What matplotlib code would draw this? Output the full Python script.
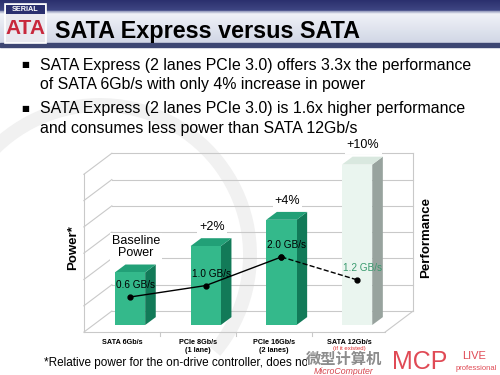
import matplotlib
matplotlib.use("Agg")
import matplotlib.pyplot as plt
import numpy as np
from matplotlib.patches import Rectangle, Polygon, Arc

plt.rcParams['font.family'] = ['Liberation Sans', 'DejaVu Sans']

# ---- data ----
categories = ["SATA 6Gb/s", "PCIe 8Gb/s\n(1 lane)", "PCIe 16Gb/s\n(2 lanes)", "SATA 12Gb/s"]
power = [2.0, 3.0, 4.0, 6.1]              # relative bar heights (power)
power_labels = ["Baseline\nPower", "+2%", "+4%", "+10%"]
throughput = [0.6, 1.0, 2.0, 1.2]         # GB/s (performance line)
hypothetical = [False, False, False, True]

title = "SATA Express versus SATA"
bullets = [
    ["SATA Express (2 lanes PCIe 3.0) offers 3.3x the performance",
     "of SATA 6Gb/s with only 4% increase in power"],
    ["SATA Express (2 lanes PCIe 3.0) is 1.6x higher performance",
     "and consumes less power than SATA 12Gb/s"],
]
footnote = "*Relative power for the on-drive controller, does no"

# ---- style ----
BAR_FRONT = "#34b98b"
BAR_TOP = "#22a077"
BAR_SIDE = "#127a58"
GHOST_FRONT = "#eaf5ef"
GHOST_TOP = "#d9e8df"
GHOST_SIDE = "#98a39e"
GRID = "#c9c9c9"
BAR_W = 0.4
DEPTH_DX, DEPTH_DY = 0.14, 0.30      # bar depth
BOX_DX, BOX_DY = 0.37, 0.80          # chart box depth
FLOOR_Y = -0.27
BOX_LEFT, BOX_RIGHT = -0.61, 3.37
N_GRID = 6

fig = plt.figure(figsize=(5, 3.75), dpi=100)

# background / slide decoration in pixel coordinates
bg = fig.add_axes([0, 0, 1, 1])
bg.set_xlim(0, 500)
bg.set_ylim(375, 0)
bg.axis("off")
bg.add_patch(Arc((100, 255), 300, 300, theta1=190, theta2=400,
                 color="#f1f1f1", lw=10, zorder=0))
grad = np.linspace(0, 1, 60)
top_col = np.array([0.17, 0.19, 0.43])
edge_col = np.array([0.55, 0.58, 0.72])
mid_col = np.array([0.94, 0.95, 0.97])
low_col = np.array([0.82, 0.84, 0.90])
rows = []
for t in grad:
    if t < 0.25:
        rows.append(top_col + (np.array([0.25, 0.28, 0.52]) - top_col) * t / 0.25)
    elif t < 0.32:
        rows.append(edge_col + (mid_col - edge_col) * (t - 0.25) / 0.07)
    else:
        rows.append(mid_col + (low_col - mid_col) * (t - 0.32) / 0.68)
img = np.array(rows)[:, None, :].repeat(2, axis=1)
bg.imshow(img, extent=[0, 500, 43, 0], aspect="auto", zorder=1)
bg.add_patch(Rectangle((0, 43), 500, 4, color="#3d4672", zorder=2))
# logo
bg.add_patch(Rectangle((5, 4), 41, 39, facecolor="#e9e9ef", edgecolor="white", lw=1.2, zorder=3))
bg.add_patch(Rectangle((6, 5), 39, 9, facecolor="#2a2f6e", zorder=3))
bg.text(25.5, 9.5, "SERIAL", color="white", fontsize=5.2, fontweight="bold",
        ha="center", va="center", zorder=4)
bg.text(25.5, 29, "ATA", color="#c8283c", fontsize=15, fontweight="bold",
        ha="center", va="center", zorder=4)
bg.text(55, 38, title, fontsize=16.8, fontweight="bold", color="black", va="baseline", zorder=4)

# bullets
for k, lines in enumerate(bullets):
    y0 = 70 + k * 43
    bg.text(25, y0 - 5, "\u25a0", fontsize=6, family="DejaVu Sans", ha="center", va="center")
    for j, line in enumerate(lines):
        bg.text(40, y0 + j * 19.5, line, fontsize=11.4, va="baseline")

# footnote and watermark
bg.text(44, 366, footnote, fontsize=8.5, va="baseline")
bg.add_patch(Rectangle((307, 352), 193, 23, facecolor="white", edgecolor="none", zorder=5))
bg.text(344, 358.5, "微型计算机", fontsize=11, fontweight="bold", color="#8c8c8c",
        family=["Noto Sans CJK SC"], ha="center", va="center", zorder=6)
bg.text(344, 371, "MicroComputer", fontsize=6.3, color="#d6474f", style="italic",
        ha="center", va="center", zorder=6)
bg.text(420, 362, "MCP", fontsize=18, color="#e04a55", ha="center", va="center", zorder=6)
bg.text(474, 356, "LIVE", fontsize=8, color="#e04a55", ha="center", va="center", zorder=6)
bg.text(476, 368.5, "professional", fontsize=5.5, color="#e04a55", ha="center", va="center", zorder=6)

# axis titles
fig.text(73 / 500, 1 - 248 / 375, "Power*", rotation=90, fontsize=9.5, fontweight="bold",
         ha="center", va="center")
fig.text(426 / 500, 1 - 237 / 375, "Performance", rotation=90, fontsize=9.5, fontweight="bold",
         ha="center", va="center")

# ---- chart ----
ax = fig.add_axes([70 / 500, 35 / 375, 350 / 500, 200 / 375])
ax.set_xlim(-0.793, 3.831)
ax.set_ylim(-0.570, 7.034)
ax.axis("off")

back_floor = FLOOR_Y + BOX_DY
back_left = BOX_LEFT + BOX_DX
back_right = BOX_RIGHT + BOX_DX
for k in range(N_GRID + 1):
    y = back_floor + k
    ax.plot([back_left, back_right], [y, y], color=GRID, lw=0.8, zorder=1)
    ax.plot([BOX_LEFT, back_left], [y - BOX_DY, y], color=GRID, lw=0.8, zorder=1)
ax.plot([BOX_LEFT, BOX_LEFT], [FLOOR_Y, FLOOR_Y + N_GRID], color=GRID, lw=0.8, zorder=1)
ax.plot([back_right, back_right], [back_floor, back_floor + N_GRID], color=GRID, lw=0.8, zorder=1)
ax.plot([BOX_LEFT, BOX_RIGHT], [FLOOR_Y, FLOOR_Y], color=GRID, lw=0.8, zorder=1)
ax.plot([BOX_RIGHT, back_right], [FLOOR_Y, back_floor], color=GRID, lw=0.8, zorder=1)
for i in range(len(categories) - 1):
    ax.plot([i + 0.4, i + 0.4], [FLOOR_Y, FLOOR_Y - 0.15], color=GRID, lw=0.8, zorder=1)

for i, (h, ghost) in enumerate(zip(power, hypothetical)):
    front, top, side = (GHOST_FRONT, GHOST_TOP, GHOST_SIDE) if ghost else (BAR_FRONT, BAR_TOP, BAR_SIDE)
    x0, x1 = i - BAR_W / 2, i + BAR_W / 2
    ax.add_patch(Polygon([(x1, 0), (x1 + DEPTH_DX, DEPTH_DY), (x1 + DEPTH_DX, h + DEPTH_DY), (x1, h)],
                         facecolor=side, edgecolor="none", zorder=3))
    ax.add_patch(Polygon([(x0, h), (x0 + DEPTH_DX, h + DEPTH_DY), (x1 + DEPTH_DX, h + DEPTH_DY), (x1, h)],
                         facecolor=top, edgecolor="none", zorder=3))
    ax.add_patch(Rectangle((x0, 0), BAR_W, h, facecolor=front, edgecolor="none", zorder=3))
    ax.text(i + 0.08, h + 0.5, power_labels[i], ha="center", va="bottom", fontsize=9,
            linespacing=1.0, zorder=4,
            bbox=dict(facecolor="white", edgecolor="none", pad=1.5))
    lines = categories[i].split("\n")
    ax.text(i - 0.1, FLOOR_Y - 0.25, lines[0], ha="center", va="top", fontsize=5.2,
            fontweight="bold", zorder=4)
    if len(lines) > 1:
        ax.text(i - 0.1, FLOOR_Y - 0.56, lines[1], ha="center", va="top", fontsize=5.2,
                fontweight="bold", zorder=4)
    if ghost:
        ax.text(i - 0.1, FLOOR_Y - 0.52, "(if it existed)", ha="center", va="top",
                fontsize=4.3, color="#e03030", zorder=4)

# performance line on its own scale
ax2 = ax.twinx()
ax2.set_ylim(-0.903, 6.09)
ax2.axis("off")
xs = np.arange(len(throughput))
real = [i for i, g in enumerate(hypothetical) if not g]
ax2.plot(xs[real], [throughput[i] for i in real], color="black", lw=1.0, marker="o", ms=3.5, zorder=5)
ax2.plot(xs[-2:], throughput[-2:], color="black", lw=1.0, ls="--", marker="o", ms=3.5, zorder=5)
for i, v in enumerate(throughput):
    col = "#3a9a6e" if hypothetical[i] else "black"
    ax2.annotate(f"{v:.1f} GB/s", (i, v), xytext=(4, 5), textcoords="offset points",
                 ha="center", va="bottom", fontsize=7.2, color=col, zorder=6)

fig.savefig("out.png", dpi=100)
